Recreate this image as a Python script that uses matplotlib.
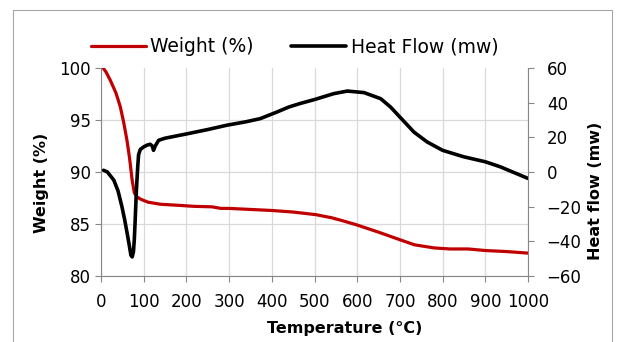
import numpy as np
import matplotlib
matplotlib.use("Agg")
import matplotlib.pyplot as plt
from matplotlib.patches import Rectangle

plt.rcParams['font.family'] = ['DejaVu Sans']

# weight loss curve (TGA)
temp_w = [5, 12, 22, 35, 45, 53, 61, 67, 73, 78, 85, 92, 110, 139, 180, 217, 260,
          281, 300, 350, 400, 450, 503, 540, 567, 600, 651, 706, 734, 780, 817,
          860, 900, 950, 1000]
weight = [100, 99.6, 98.8, 97.6, 96.3, 94.8, 93, 91.3, 89.2, 88.0, 87.6, 87.4,
          87.1, 86.9, 86.8, 86.7, 86.65, 86.5, 86.5, 86.4, 86.3, 86.15, 85.9,
          85.6, 85.3, 84.9, 84.2, 83.4, 83.0, 82.7, 82.6, 82.6, 82.45, 82.35, 82.2]

# heat flow curve (DSC)
temp_h = [6, 15, 30, 40, 49, 55, 61, 66, 70, 73, 76, 78, 80, 83, 86, 88, 92, 100,
          108, 115, 120, 123, 127, 135, 150, 201, 250, 295, 340, 373, 412, 440,
          466, 500, 545, 577, 616, 655, 678, 700, 733, 764, 800, 849, 900, 935, 1000]
heat = [1, 0, -4.7, -11, -20, -27, -35, -42, -48, -49, -46, -39, -28, -10, 3, 10,
        13, 14.5, 15.5, 16, 15, 12.5, 15, 18.3, 19.5, 22, 24.5, 27, 29, 30.8, 34.6,
        37.5, 39.5, 41.8, 45.2, 46.7, 45.8, 42.3, 37.5, 31.7, 23, 17.3, 12.5, 8.8,
        5.9, 3, -3.7]

xticks = np.arange(0, 1001, 100)
wticks = np.arange(80, 101, 5)
hticks = np.arange(-60, 61, 20)

axcol = '#868686'
gridcol = '#D9D9D9'

fig = plt.figure(figsize=(6.18, 3.42), dpi=100)
fig.add_artist(Rectangle((13/618, -0.02), 599/618, 1.02 - 10/342,
                         transform=fig.transFigure, fill=False,
                         edgecolor='#A6A6A6', linewidth=0.8))

ax = fig.add_axes([101/618, 66/342, 427/618, 208/342])
ax2 = ax.twinx()

l1, = ax.plot(temp_w, weight, color='#C00000', linewidth=2.3,
              solid_joinstyle='round', solid_capstyle='round', label='Weight (%)')
l2, = ax2.plot(temp_h, heat, color='black', linewidth=2.6,
               solid_joinstyle='round', solid_capstyle='round', label='Heat Flow (mw)')

ax.set_xlim(0, 1000)
ax.set_ylim(80, 100)
ax2.set_ylim(-60, 60)
ax.set_xticks(xticks)
ax.set_yticks(wticks)
ax2.set_yticks(hticks)

ax.grid(True, color=gridcol, linewidth=0.9)
ax.set_axisbelow(True)
ax.yaxis.get_gridlines()[-1].set_visible(False)

for a in (ax, ax2):
    for s in a.spines.values():
        s.set_visible(False)
ax.spines['left'].set_visible(True)
ax.spines['left'].set_color(axcol)
ax.spines['bottom'].set_visible(True)
ax.spines['bottom'].set_color(axcol)
ax2.spines['right'].set_visible(True)
ax2.spines['right'].set_color(axcol)

ax.tick_params(axis='x', direction='out', length=4.5, color=axcol, pad=8,
               labelsize=12)
ax.tick_params(axis='y', direction='out', length=4.5, color=axcol, pad=3,
               labelsize=12)
ax2.tick_params(axis='y', direction='out', length=4.5, color=axcol, pad=9,
                labelsize=12)

ax.set_xlabel('Temperature (°C)', fontsize=11.5, fontweight='bold')
ax.xaxis.set_label_coords(0.571, -0.215)
ax.set_ylabel('Weight (%)', fontsize=11.5, fontweight='bold')
ax.yaxis.set_label_coords(-0.122, 0.45)
ax2.set_ylabel('Heat flow (mw)', fontsize=11.5, fontweight='bold')
ax2.yaxis.set_label_coords(1.141, 0.41)

fig.legend(handles=[l1, l2], loc='center', bbox_to_anchor=(0.477, 1 - 47/342),
           ncol=2, frameon=False, fontsize=13.5, handlelength=2.9,
           handletextpad=0.25, columnspacing=2.0)

fig.savefig('out.png', dpi=100)
